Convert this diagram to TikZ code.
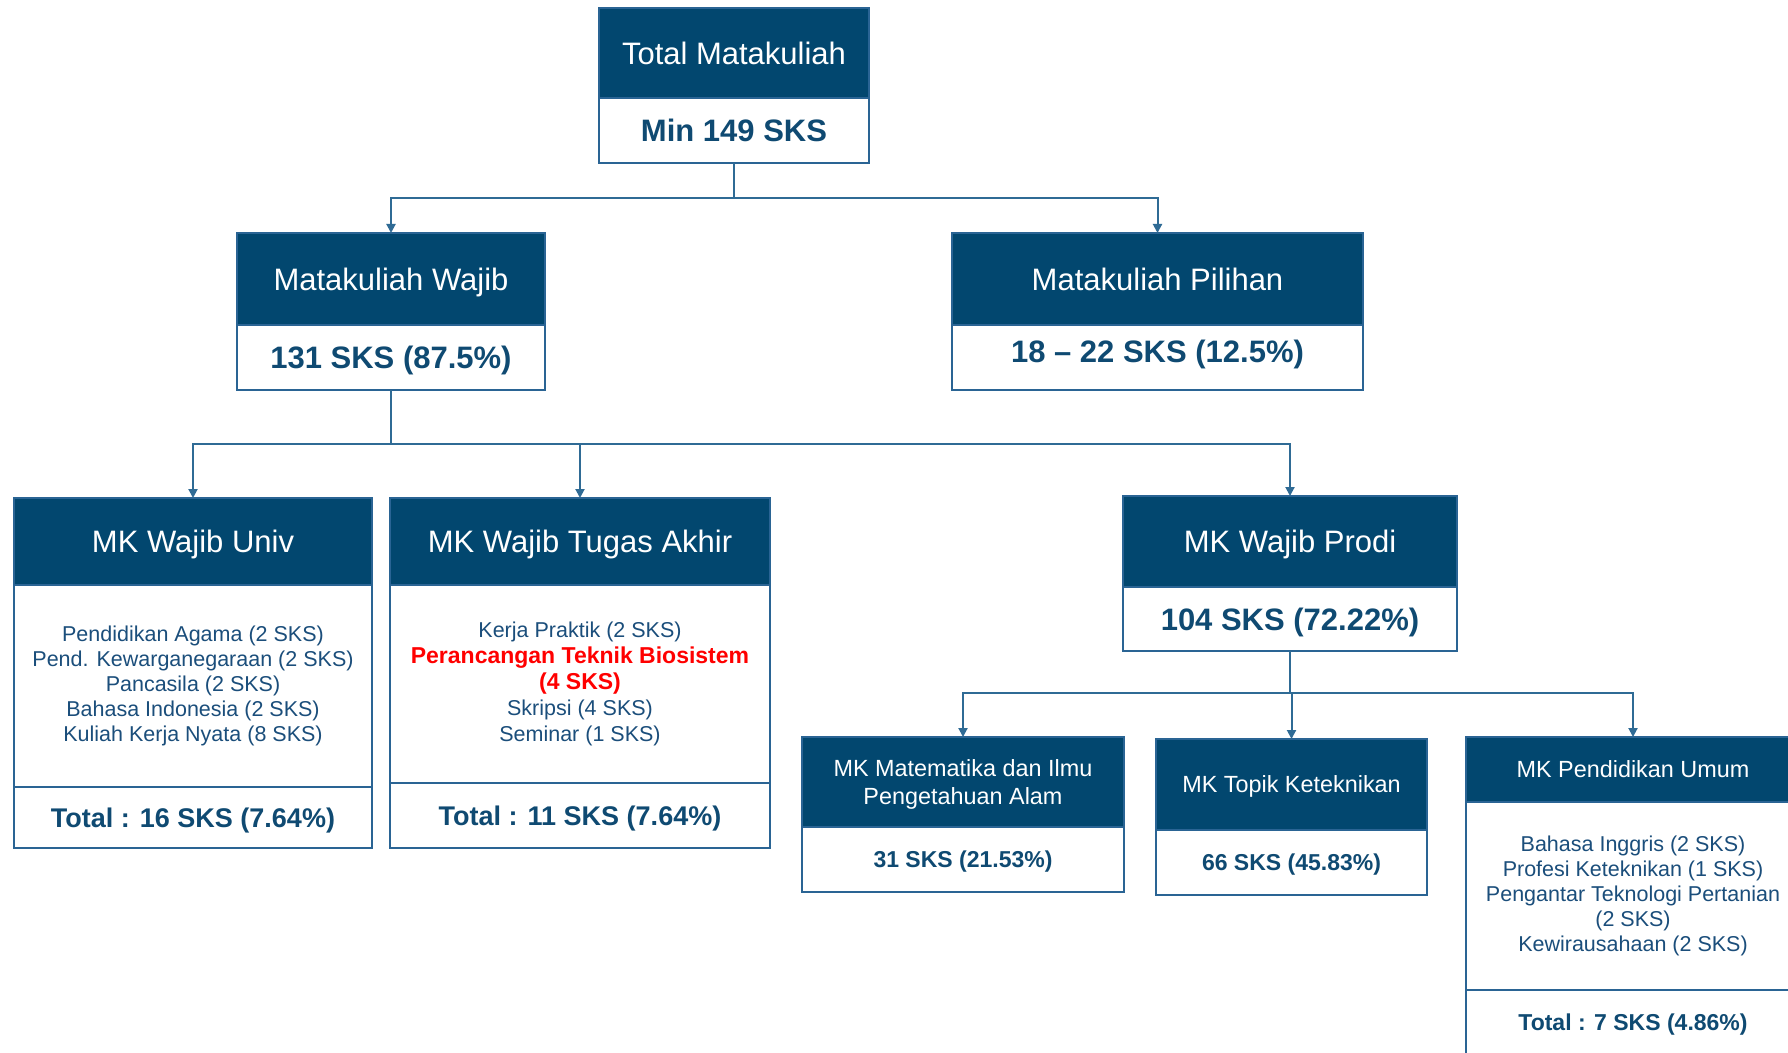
\documentclass[tikz,border=0pt]{standalone}
\usepackage{fontspec}
\setmainfont{Liberation Sans}
\usetikzlibrary{arrows.meta}
\definecolor{hdrblue}{HTML}{02476F}
\definecolor{bordblue}{HTML}{2A6494}
\definecolor{linkblue}{HTML}{2F6B95}
\definecolor{txtblue}{HTML}{0F4A72}
\definecolor{listblue}{HTML}{1B4E7B}
\definecolor{redtxt}{HTML}{FF0000}
\begin{document}
\begin{tikzpicture}[x=0.5pt,y=-0.5pt,
  box/.style={anchor=north west, inner sep=0pt, outer sep=0pt, align=center, line width=0.75pt, draw=bordblue},
  hdr/.style={box, fill=hdrblue, text=white, text depth=0pt, font=\fontsize{15.5}{18}\selectfont},
  shdr/.style={box, fill=hdrblue, text=white, text depth=0pt, font=\fontsize{11.7}{14}\selectfont},
  bodyb/.style={box, fill=white, text=txtblue, text depth=0pt, font=\bfseries\fontsize{15.5}{18}\selectfont},
  sbody/.style={box, fill=white, text=txtblue, text depth=0pt, font=\bfseries\fontsize{11.5}{14}\selectfont},
  listb/.style={box, fill=white, text=listblue, font=\fontsize{10.75}{12.5}\selectfont},
  totb/.style={box, fill=white, text=txtblue, text depth=0pt, font=\bfseries\fontsize{13.5}{16}\selectfont},
  conn/.style={draw=linkblue, line width=1pt},
  arr/.style={conn, -{Triangle[length=4.5pt,width=4.5pt]}}
]
\clip (0,0) rectangle (1788,1053);
\fill[white] (0,0) rectangle (1788,1053);

% top
\node[hdr, minimum width=135pt, minimum height=45pt] (toph) at (599,8) {Total Matakuliah};
\node[bodyb, minimum width=135pt, minimum height=32.5pt] (topb) at (toph.south west) {Min 149 SKS};

% level 2
\node[hdr, minimum width=154pt, minimum height=46pt] (wajh) at (237,233) {Matakuliah Wajib};
\node[bodyb, minimum width=154pt, minimum height=32.5pt] (wajb) at (wajh.south west) {131 SKS (87.5\%)};
\node[hdr, minimum width=205.5pt, minimum height=46pt] (pilh) at (952,233) {Matakuliah Pilihan};
\node[bodyb, text depth=6.5pt, minimum width=205.5pt, minimum height=32.5pt] (pilb) at (pilh.south west) {18 -- 22 SKS (12.5\%)};

% level 3
\node[hdr, minimum width=179pt, minimum height=43.5pt] (univh) at (14,498) {MK Wajib Univ};
\node[listb, minimum width=179pt, minimum height=101pt] (univl) at (univh.south west)
  {Pendidikan Agama (2 SKS)\\Pend. Kewarganegaraan (2 SKS)\\Pancasila (2 SKS)\\Bahasa Indonesia (2 SKS)\\Kuliah Kerja Nyata (8 SKS)};
\node[totb, minimum width=179pt, minimum height=30.5pt] (univt) at (univl.south west) {Total : 16 SKS (7.64\%)};

\node[hdr, minimum width=190pt, minimum height=43.5pt] (tah) at (390,498) {MK Wajib Tugas Akhir};
\node[listb, font=\fontsize{10.75}{13}\selectfont, minimum width=190pt, minimum height=99pt] (tal) at (tah.south west)
  {Kerja Praktik (2 SKS)\\{\color{redtxt}\bfseries\fontsize{11.5}{13}\selectfont Perancangan Teknik Biosistem}\\{\color{redtxt}\bfseries\fontsize{11.5}{13}\selectfont (4 SKS)}\\Skripsi (4 SKS)\\Seminar (1 SKS)};
\node[totb, minimum width=190pt, minimum height=32.5pt] (tat) at (tal.south west) {Total : 11 SKS (7.64\%)};

\node[hdr, minimum width=167pt, minimum height=45.5pt] (prodh) at (1123,496) {MK Wajib Prodi};
\node[bodyb, minimum width=167pt, minimum height=32pt] (prodb) at (prodh.south west) {104 SKS (72.22\%)};

% level 4
\node[shdr, minimum width=161pt, minimum height=45pt] (math) at (802,737) {MK Matematika dan Ilmu\\Pengetahuan Alam};
\node[sbody, minimum width=161pt, minimum height=32.5pt] (mathb) at (math.south west) {31 SKS (21.53\%)};

\node[shdr, minimum width=135.5pt, minimum height=45.5pt] (topk) at (1156,739) {MK Topik Keteknikan};
\node[sbody, minimum width=135.5pt, minimum height=32.5pt] (topkb) at (topk.south west) {66 SKS (45.83\%)};

\node[shdr, minimum width=167pt, minimum height=32.5pt] (puh) at (1466,737) {MK Pendidikan Umum};
\node[listb, minimum width=167pt, minimum height=94pt] (pul) at (puh.south west)
  {Bahasa Inggris (2 SKS)\\Profesi Keteknikan (1 SKS)\\Pengantar Teknologi Pertanian\\(2 SKS)\\Kewirausahaan (2 SKS)};
\node[sbody, minimum width=167pt, minimum height=32pt] (put) at (pul.south west) {Total : 7 SKS (4.86\%)};

% connectors
\draw[conn] (topb.south) -- ++(0,35) coordinate (j1);
\draw[arr] (j1) -| (wajh.north);
\draw[arr] (j1) -| (pilh.north);

\draw[conn] (wajb.south) -- ++(0,54) coordinate (j2);
\draw[arr] (j2) -| (univh.north);
\draw[arr] (j2) -| (tah.north);
\draw[arr] (j2) -| (prodh.north);

\draw[conn] (prodb.south) -- ++(0,42) coordinate (j3);
\draw[arr] (j3) -| (math.north);
\draw[arr] (j3) -| (topk.north);
\draw[arr] (j3) -| (puh.north);
\end{tikzpicture}
\end{document}
